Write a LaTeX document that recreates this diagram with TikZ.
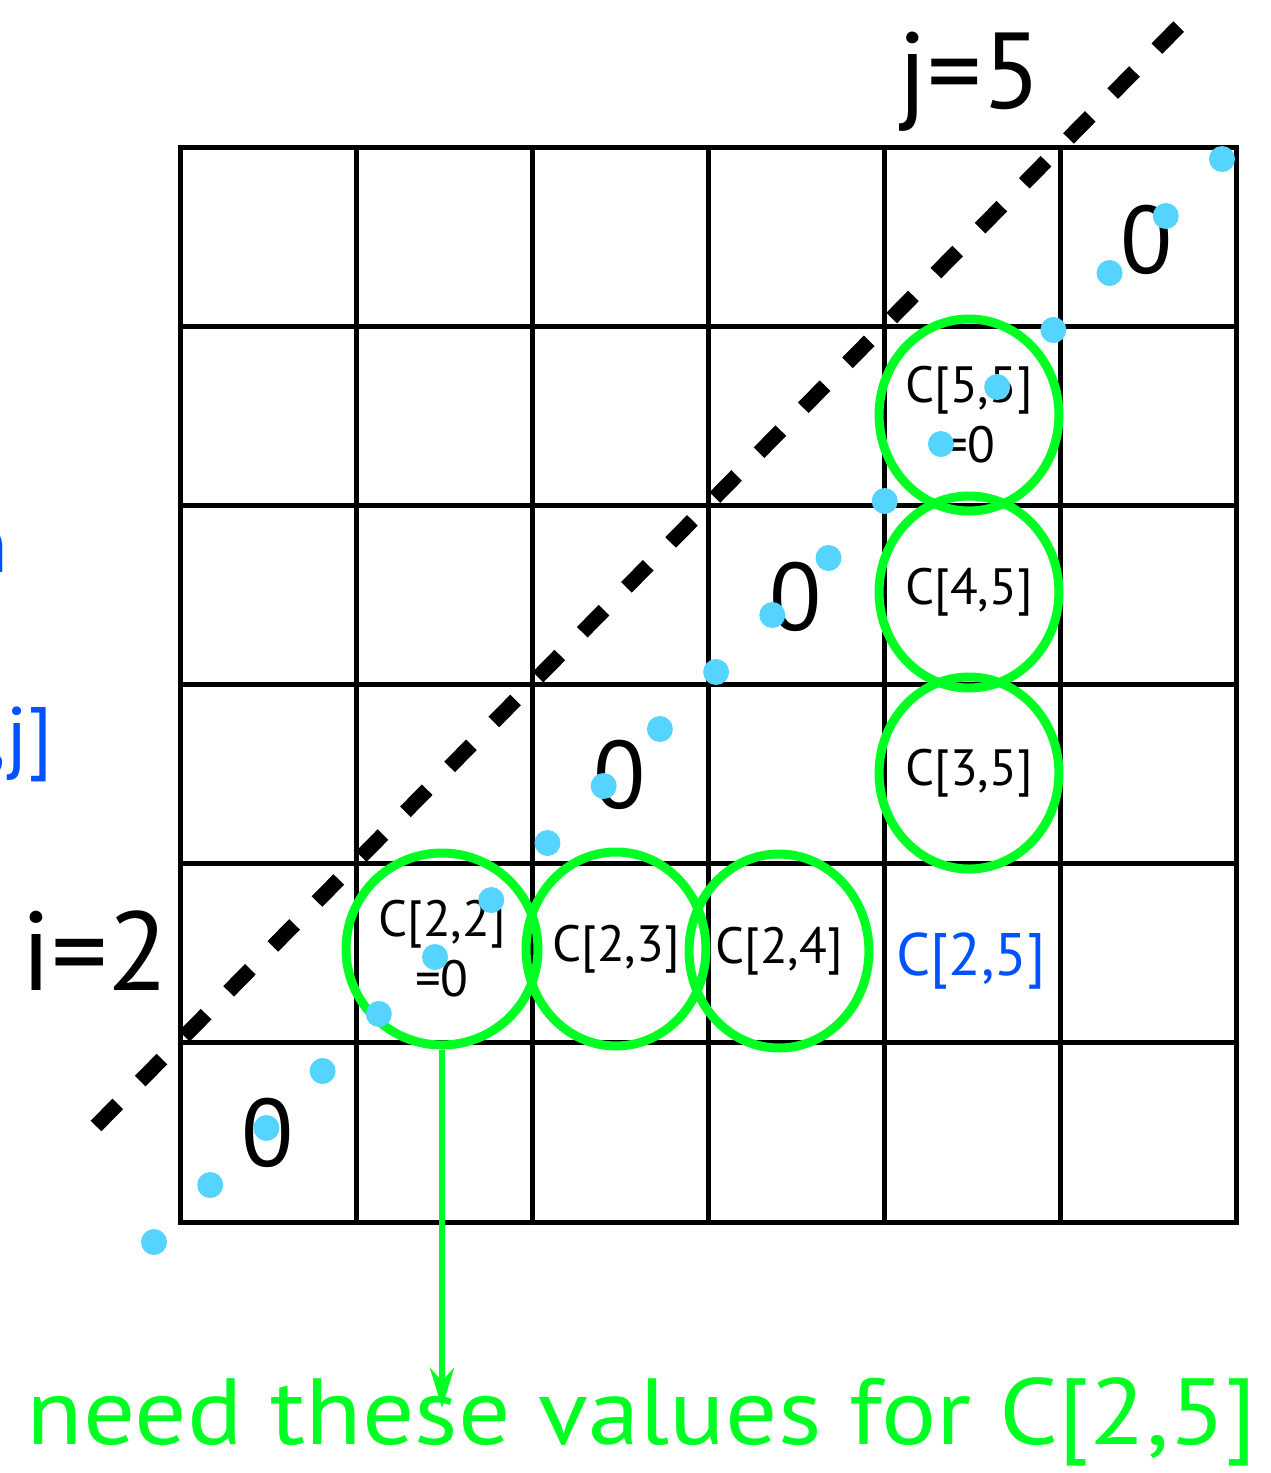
\documentclass[tikz,border=0pt]{standalone}
\usepackage{fontspec}
\setmainfont{PT Sans}
\usetikzlibrary{shapes.geometric,arrows.meta}
\definecolor{ringgreen}{RGB}{0,255,34}
\definecolor{dotblue}{RGB}{85,212,255}
\definecolor{textblue}{RGB}{0,82,255}

\begin{document}
\begin{tikzpicture}[x=1pt, y=-1pt, >={Stealth[length=40pt, width=24pt]}]

    % Stili
    \tikzset{
        gridline/.style={line width=5pt, line cap=rect},
        ring/.style={draw=ringgreen, line width=9pt, ellipse, inner sep=0pt,
            minimum width=178pt, minimum height=192pt, align=center,
            font=\fontsize{51}{60}\selectfont},
        zero/.style={font=\fontsize{96}{96}\selectfont},
        biglabel/.style={font=\fontsize{108}{108}\selectfont, anchor=base},
        partial/.style={text=textblue, font=\fontsize{80}{80}\selectfont, anchor=base east}
    }

    \useasboundingbox (0,0) rectangle (1270,1473);

    % Griglia 6x6
    \foreach \k in {0,...,6} {
        \draw[gridline] (180+176*\k,147) -- (180+176*\k,1222);
        \draw[gridline] (180,147+179.17*\k) -- (1236,147+179.17*\k);
    }

    % Diagonale tratteggiata
    \draw[line width=15pt, dash pattern=on 31pt off 32pt] (96,1126) -- (1193,12);

    % Testi tagliati sul bordo sinistro
    \node[partial] (bn) at (12,572) {n};
    \node[partial] (bj) at (56,763) {,j]};

    % Indici
    \node[biglabel] (lj) at (970,108) {j=5};
    \node[biglabel, font=\fontsize{112}{112}\selectfont] (li) at (95,990) {i=2};

    % Zeri sulla diagonale
    \node[zero] (z1) at (1147,240) {0};
    \node[zero] (z2) at (796,597) {0};
    \node[zero] (z3) at (620,775) {0};
    \node[zero] (z4) at (268,1133) {0};

    % Cerchi verdi
    \node[ring, minimum width=192pt] (c22) at (442,949) {C[2,2]\\=0};
    \node[ring, minimum width=176pt, minimum height=194pt] (c23) at (616,949) {C[2,3]};
    \node[ring, minimum width=174pt, minimum height=194pt] (c24) at (779,951) {C[2,4]};
    \node[ring] (c35) at (969,773) {C[3,5]};
    \node[ring] (c45) at (969,592) {C[4,5]};
    \node[ring] (c55) at (969,415) {C[5,5]\\=0};

    % Cella obiettivo
    \node[text=textblue, font=\fontsize{60}{60}\selectfont, anchor=base] (c25) at (971,975) {C[2,5]};

    % Freccia verso la didascalia
    \node[text=ringgreen, font=\fontsize{94}{94}\selectfont, xscale=1.1, inner sep=0pt, anchor=base] (need) at (642,1444) {need these values for C[2,5]};
    \coordinate (tip) at (442,1408);
    \draw[->, draw=ringgreen, line width=6pt] (c22.south) -- (tip);

    % Punti azzurri
    \foreach \k in {0,...,19}
        \fill[dotblue] (154+56.21*\k,1242-57*\k) circle (13);

\end{tikzpicture}
\end{document}
